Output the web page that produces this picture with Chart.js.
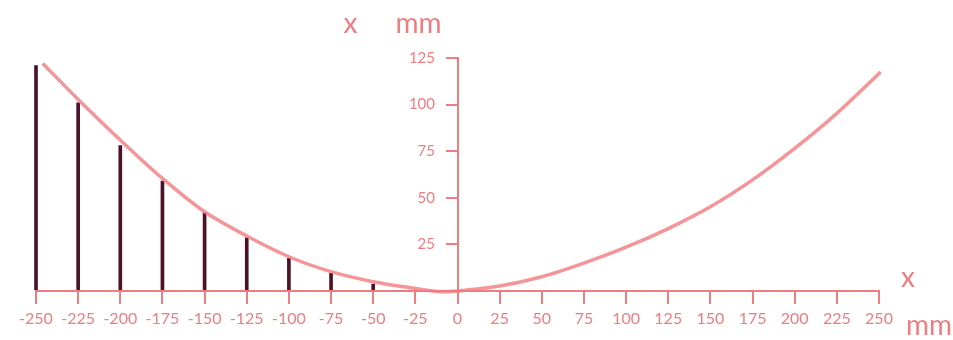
<!DOCTYPE html>
<html>
<head>
<meta charset="utf-8">
<script src="https://cdn.jsdelivr.net/npm/chart.js@4.4.0/dist/chart.umd.min.js"></script>
<style>
  html, body { margin: 0; padding: 0; background: #fff; }
  #wrap { width: 953px; height: 340px; }
</style>
</head>
<body>
<div id="wrap"><canvas id="myChart" width="953" height="340"></canvas></div>
<script>
// values
const curveX = [-246, -225, -200, -175, -150, -125, -100, -75, -50, -25, -10, 0, 25, 50, 75, 100, 125, 150, 175, 200, 225, 251]
const curveY = [122, 102.8, 81, 60.4, 42.5, 29.5, 18.4, 10.4, 5, 1.4, -0.4, 0, 2.7, 7.7, 15, 23.5, 33.5, 45.2, 59.6, 76.5, 95.3, 117.5]

const stickX = [-250, -225, -200, -175, -150, -125, -100, -75, -50]
const stickY = [121, 101, 78, 59, 42, 28.6, 17.6, 9.5, 3.7]
const stickBase = 0.8

const xTicks = [-250, -225, -200, -175, -150, -125, -100, -75, -50, -25, 0, 25, 50, 75, 100, 125, 150, 175, 200, 225, 250]
const yTicks = [25, 50, 75, 100, 125]

const pink = '#ef7c80'
const dark = '#4b1228'

Chart.defaults.font.family = 'Lato, "Open Sans", sans-serif'

const ctx = document.getElementById('myChart')

// axis names drawn next to the axes
const axisNames = {
    id: 'axisNames',
    afterDraw(chart) {
        const c = chart.ctx
        const xs = chart.scales.x
        const ys = chart.scales.y
        const x0 = xs.getPixelForValue(0)
        const y0 = ys.getPixelForValue(0)
        c.save()
        c.fillStyle = pink
        c.textBaseline = 'alphabetic'
        c.font = '28px Lato, sans-serif'
        c.textAlign = 'center'
        c.fillText('x', x0 - 107, chart.chartArea.top - 25)
        c.textAlign = 'left'
        c.fillText('mm', x0 - 62, chart.chartArea.top - 25)
        c.textAlign = 'center'
        c.fillText('x', xs.right + 29, y0 - 4)
        c.textAlign = 'left'
        c.fillText('mm', xs.right + 27, y0 + 44)
        c.restore()
    }
}

const data = {
    datasets: [{
        type: 'line',
        data: curveX.map((x, i) => ({ x: x, y: curveY[i] })),
        borderColor: 'rgba(240,122,127,0.8)',
        backgroundColor: 'transparent',
        borderWidth: 3.5,
        pointRadius: 0,
        tension: 0.3,
        clip: 8,
        order: 0
    }, {
        type: 'bar',
        data: stickX.map((x, i) => ({ x: x, y: [stickBase, stickY[i]] })),
        backgroundColor: dark,
        barThickness: 3,
        grouped: false,
        clip: 8,
        order: 1
    }]
}

const config = {
    type: 'line',
    data: data,
    plugins: [axisNames],
    options: {
        responsive: false,
        devicePixelRatio: 1,
        animation: false,
        layout: { padding: { left: 36, right: 74, top: 58, bottom: 41.5 } },
        plugins: { legend: { display: false }, tooltip: { enabled: false } },
        scales: {
            x: {
                type: 'linear',
                min: -250,
                max: 250,
                offset: false,
                position: { y: 0 },
                grid: { offset: false, drawOnChartArea: false, drawTicks: true, tickLength: 12, color: pink, lineWidth: 2 },
                border: { display: true, color: pink, width: 2 },
                ticks: { color: pink, font: { size: 16 }, padding: 6, autoSkip: false, maxRotation: 0 },
                afterBuildTicks: s => { s.ticks = xTicks.map(v => ({ value: v })) }
            },
            y: {
                type: 'linear',
                min: -4,
                max: 125,
                position: { x: 0 },
                grid: { offset: false, drawOnChartArea: false, drawTicks: true, tickLength: 11, color: pink, lineWidth: 2 },
                border: { display: true, color: pink, width: 2 },
                // labels sit right-aligned on the axis, so pad them past the tick marks
                ticks: { color: pink, font: { size: 15 }, callback: v => v + '\u2002\u2002\u2002' },
                afterBuildTicks: s => { s.ticks = yTicks.map(v => ({ value: v })) }
            }
        }
    }
}

const myChart = new Chart(ctx, config)
</script>
</body>
</html>
